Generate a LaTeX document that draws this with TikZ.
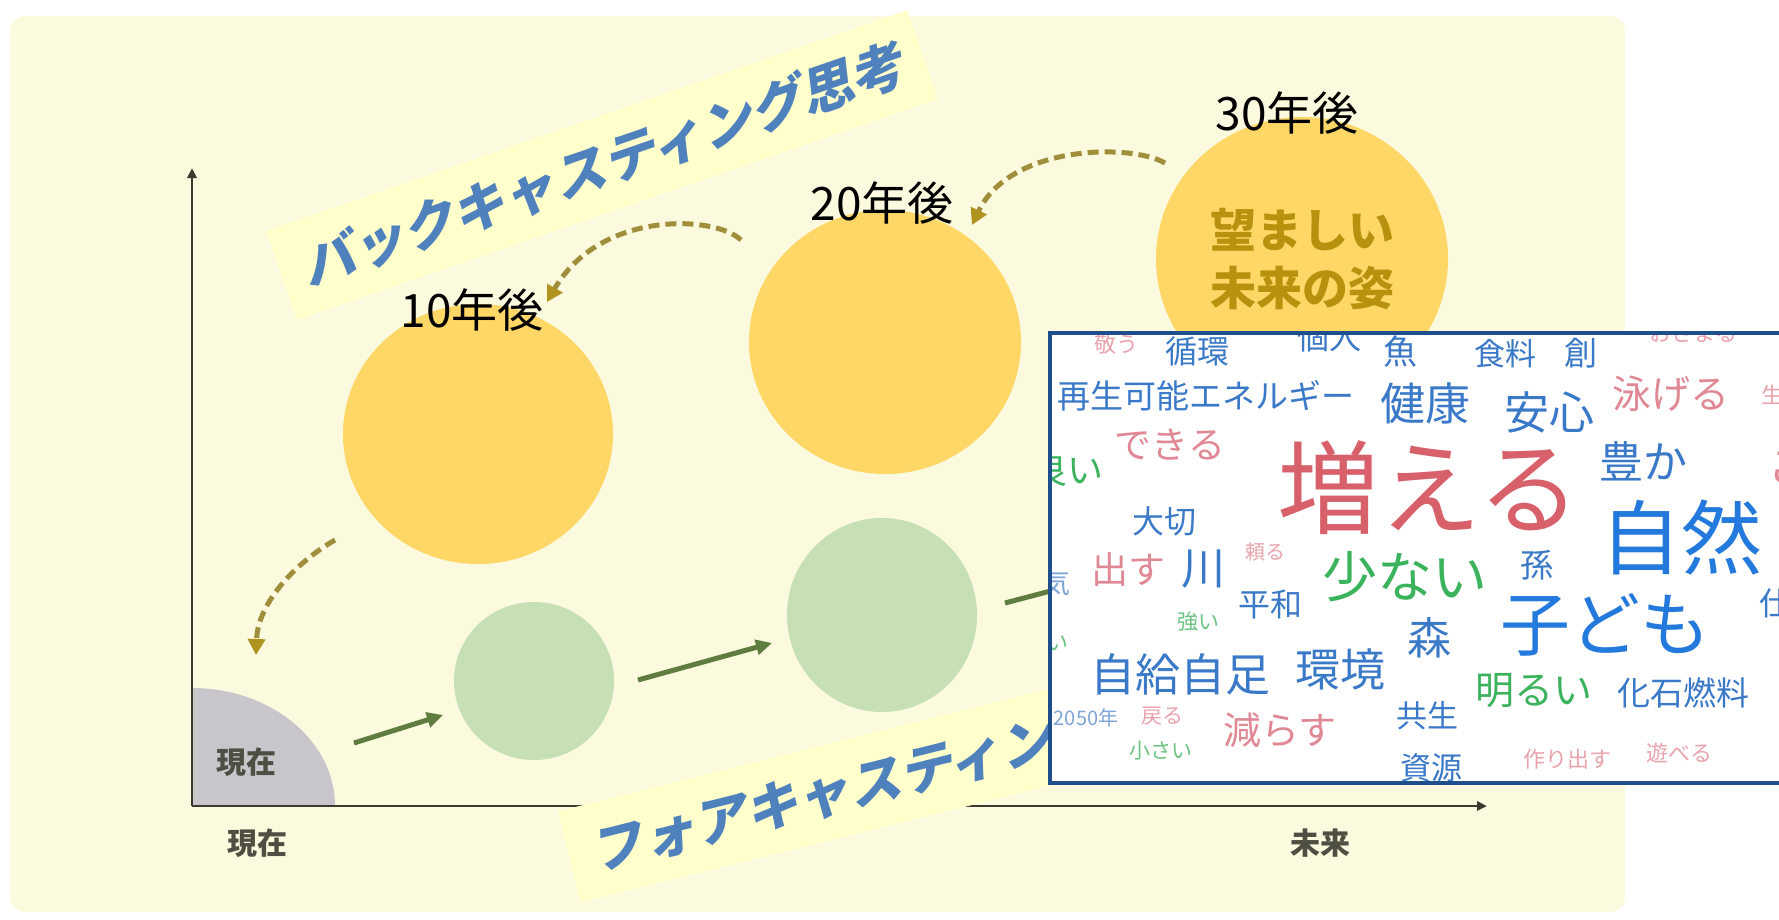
\documentclass[tikz,border=0pt]{standalone}
\usepackage{fontspec}
\usetikzlibrary{arrows.meta,shapes.geometric}
\newfontfamily\jp{Noto Sans CJK JP}
\newfontfamily\jpsl{Noto Sans CJK JP}[FakeSlant=0.22]
\definecolor{panelc}{HTML}{FBFADF}
\definecolor{yellowc}{HTML}{FED766}
\definecolor{greenc}{HTML}{C6DFB4}
\definecolor{grayc}{HTML}{C9C6CB}
\definecolor{axisc}{HTML}{3A3A2E}
\definecolor{dashc}{HTML}{A08E3A}
\definecolor{dashtip}{HTML}{B0921E}
\definecolor{arrowg}{HTML}{5E7D3E}
\definecolor{goldtext}{HTML}{B8920E}
\definecolor{bannerc}{HTML}{FFFFCC}
\definecolor{bannertext}{HTML}{4F81BD}
\definecolor{wcborder}{HTML}{1F4E8C}
\definecolor{wred}{HTML}{D8606B}
\definecolor{wpink}{HTML}{E08893}
\definecolor{wfaint}{HTML}{EAA3AC}
\definecolor{wblue}{HTML}{3A78C8}
\definecolor{wbright}{HTML}{2479DC}
\definecolor{wgreen}{HTML}{3BB25C}
\definecolor{wgreenl}{HTML}{6CC283}
\definecolor{wbluel}{HTML}{7FA6D8}
\tikzset{
  wcfs/.style={font=\jp\fontsize{#1}{#1}\selectfont, inner sep=0pt},
  yearlbl/.style={font=\jp\fontsize{46}{46}\selectfont, text=black, inner sep=0pt},
  axislbl/.style={font=\jp\bfseries\fontsize{30}{30}\selectfont, text=axisc!90, inner sep=0pt},
  yel/.style={ellipse, fill=yellowc, draw=none, inner sep=0pt},
  grn/.style={ellipse, fill=greenc, draw=none, inner sep=0pt},
  dasharrow/.style={draw=dashc, line width=5pt, dash pattern=on 11pt off 6pt,
    -{Triangle[length=16pt,width=17pt,color=dashtip]}},
  grnarrow/.style={draw=arrowg, line width=5pt, -{Triangle[length=16pt,width=15pt]}},
  banner/.style={fill=bannerc, minimum width=678pt, minimum height=94pt, inner sep=0pt,
    text=bannertext, font=\jpsl\bfseries\fontsize{53}{53}\selectfont},
  axisline/.style={draw=axisc, line width=2.5pt, -{Triangle[length=10pt,width=9pt]}}
}
\begin{document}
\begin{tikzpicture}[x=1pt,y=-1pt]
\useasboundingbox (0,0) rectangle (1779,919);
\fill[white] (0,0) rectangle (1779,919);
% panel
\fill[panelc, rounded corners=15pt] (10,16) rectangle (1625,912);

% present quadrant
\coordinate (origin) at (192,806);
\begin{scope}
  \clip (192,806) rectangle (400,600);
  \fill[grayc] (origin) ellipse [x radius=143, y radius=118];
\end{scope}
\node[axislbl] (nowin) at (246,762) {現在};

% axes
\coordinate (ytop) at (192,168);
\coordinate (xend) at (1487,806);
\draw[axisline] (origin) -- (ytop);
\draw[axisline] (origin) -- (xend);
\node[axislbl] (nowlbl) at (257,843) {現在};
\node[axislbl] (futlbl) at (1320,843) {未来};

% yellow circles
\node[yel, minimum width=270pt, minimum height=260pt] (y1) at (478,434) {};
\node[yel, minimum width=272pt, minimum height=264pt] (y2) at (885,342) {};
\node[yel, minimum width=292pt, minimum height=284pt, align=center,
      font=\jp\bfseries\fontsize{46}{58}\selectfont, text=goldtext] (y3) at (1302,259) {望ましい\\未来の姿};

% green circles
\node[grn, minimum width=160pt, minimum height=158pt] (g1) at (534,681) {};
\node[grn, minimum width=190pt, minimum height=194pt] (g2) at (882,615) {};

% green arrows
\coordinate (g1s) at (354,743); \coordinate (g1e) at (443,715);
\coordinate (g2s) at (638,680); \coordinate (g2e) at (772,643);
\coordinate (g3s) at (1005,603); \coordinate (g3e) at (1100,578);
\draw[grnarrow] (g1s) -- (g1e);
\draw[grnarrow] (g2s) -- (g2e);
\draw[grnarrow] (g3s) -- (g3e);

% dashed back-casting arrows
\coordinate (a1s) at (1165,163); \coordinate (a1e) at (972,225);
\coordinate (a2s) at (741,240); \coordinate (a2e) at (547,302);
\coordinate (a3s) at (335,540); \coordinate (a3e) at (256,655);
\draw[dasharrow] (a1s) .. controls (1130,143) and (1010,145) .. (a1e);
\draw[dasharrow] (a2s) .. controls (715,215) and (600,210) .. (a2e);
\draw[dasharrow] (a3s) .. controls (300,560) and (258,600) .. (a3e);

% year labels
\node[yearlbl] (l30) at (1287,113) {30年後};
\node[yearlbl] (l20) at (882,203) {20年後};
\node[yearlbl] (l10) at (472,310) {10年後};

% banners
\node[banner, rotate=19] (bk) at (602,165) {バックキャスティング思考};
\node[banner, rotate=14] (fw) at (898,775) {フォアキャスティング思考};

% word cloud
\fill[white] (1050,333) rectangle (1800,783);
\begin{scope}
\clip (1050,333) rectangle (1800,783);
\node[wcfs=22, text=wfaint] (w1) at (1116,344) {敬う};
\node[wcfs=32, text=wblue] (w2) at (1197,351) {循環};
\node[wcfs=32, text=wblue] (w3) at (1329,337) {個人};
\node[wcfs=34, text=wblue] (w4) at (1400,352) {魚};
\node[wcfs=31, text=wblue] (w5) at (1505,354) {食料};
\node[wcfs=33, text=wblue] (w6) at (1581,353) {創};
\node[wcfs=22, text=wfaint] (w7) at (1693,333) {おさまる};
\node[wcfs=33, text=wblue] (w8) at (1206,396) {再生可能エネルギー};
\node[wcfs=45, text=wblue] (w9) at (1425,403) {健康};
\node[wcfs=45, text=wblue] (w10) at (1549,412) {安心};
\node[wcfs=39, text=wpink] (w11) at (1671,394) {泳げる};
\node[wcfs=22, text=wfaint] (w12) at (1772,395) {生};
\node[wcfs=37, text=wpink] (w13) at (1170,445) {できる};
\node[wcfs=36, text=wgreen] (w14) at (1067,470) {良い};
\node[wcfs=102, text=wred] (w15) at (1429,488) {増える};
\node[wcfs=44, text=wblue] (w16) at (1643,461) {豊か};
\node[wcfs=45, text=wpink] (w17) at (1790,468) {こ};
\node[wcfs=32, text=wblue] (w18) at (1164,521) {大切};
\node[wcfs=81, text=wbright] (w19) at (1681,537) {自然};
\node[wcfs=28, text=wbluel] (w20) at (1056,583) {気};
\node[wcfs=37, text=wpink] (w21) at (1128,570) {出す};
\node[wcfs=44, text=wblue] (w22) at (1203,569) {川};
\node[wcfs=20, text=wfaint] (w23) at (1265,552) {頼る};
\node[wcfs=55, text=wgreen] (w24) at (1405,577) {少ない};
\node[wcfs=33, text=wblue] (w25) at (1537,565) {孫};
\node[wcfs=32, text=wblue] (w26) at (1270,604) {平和};
\node[wcfs=21, text=wgreenl] (w27) at (1198,622) {強い};
\node[wcfs=70, text=wbright] (w28) at (1605,625) {子ども};
\node[wcfs=32, text=wblue] (w29) at (1775,603) {仕};
\node[wcfs=22, text=wgreenl] (w30) at (1057,643) {い};
\node[wcfs=44, text=wblue] (w31) at (1429,638) {森};
\node[wcfs=45, text=wblue] (w32) at (1180,674) {自給自足};
\node[wcfs=45, text=wblue] (w33) at (1340,669) {環境};
\node[wcfs=39, text=wgreen] (w34) at (1534,691) {明るい};
\node[wcfs=33, text=wblue] (w35) at (1683,693) {化石燃料};
\node[wcfs=20, text=wbluel] (w36) at (1086,718) {2050年};
\node[wcfs=21, text=wfaint] (w37) at (1162,716) {戻る};
\node[wcfs=38, text=wpink] (w38) at (1280,730) {減らす};
\node[wcfs=31, text=wblue] (w39) at (1427,716) {共生};
\node[wcfs=21, text=wgreenl] (w40) at (1161,751) {小さい};
\node[wcfs=31, text=wblue] (w41) at (1431,768) {資源};
\node[wcfs=22, text=wfaint] (w42) at (1567,759) {作り出す};
\node[wcfs=22, text=wfaint] (w43) at (1679,753) {遊べる};
\end{scope}
\draw[wcborder, line width=4.5pt] (1050,333) rectangle (1800,783);
\end{tikzpicture}
\end{document}
